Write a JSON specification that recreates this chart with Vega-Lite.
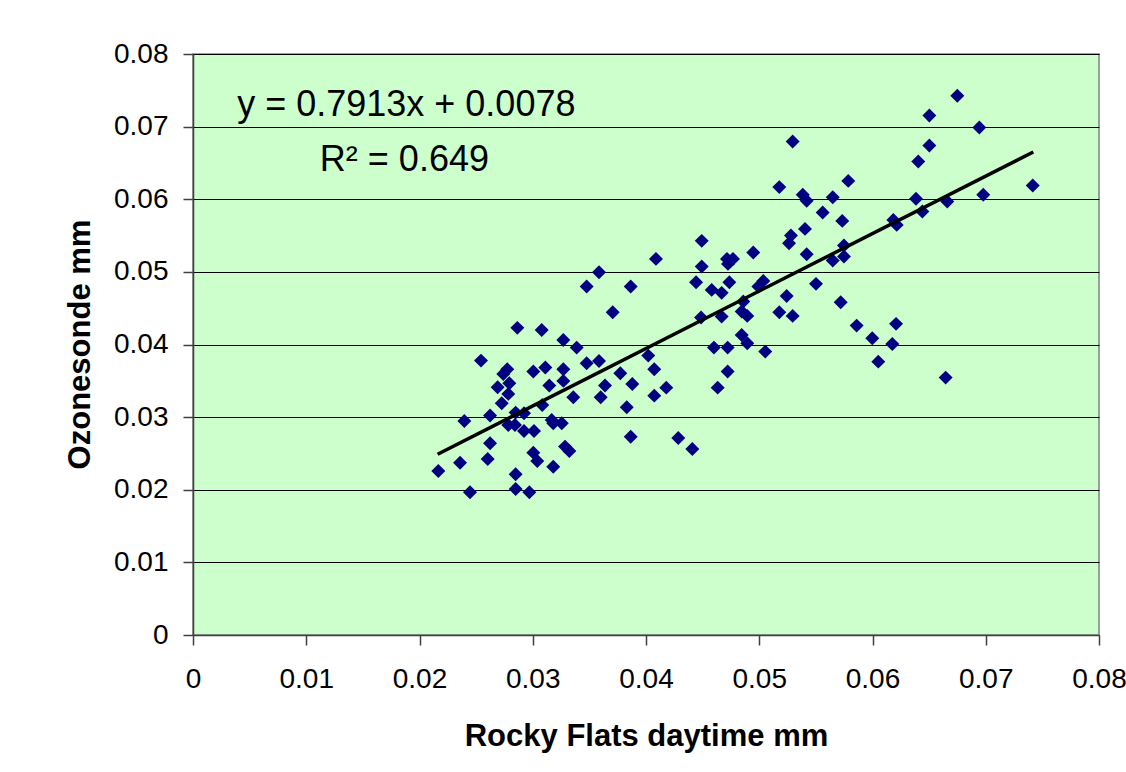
{
  "$schema": "https://vega.github.io/schema/vega-lite/v6.json",
  "autosize": {"type": "none"},
  "width": 906,
  "height": 581,
  "padding": {"left": 193, "top": 54, "right": 27, "bottom": 137},
  "background": "#ffffff",
  "config": {
    "font": "Liberation Sans",
    "view": {"fill": "#CCFFCC", "stroke": "#808080", "strokeWidth": 1.5}
  },
  "datasets": {
    "pts": [
      {"rf": 0.03706, "oz": 0.04445}, {"rf": 0.02864, "oz": 0.04229}, {"rf": 0.03079, "oz": 0.04201},
      {"rf": 0.03270, "oz": 0.04063}, {"rf": 0.03388, "oz": 0.03957}, {"rf": 0.02543, "oz": 0.03778},
      {"rf": 0.02775, "oz": 0.03660}, {"rf": 0.02740, "oz": 0.03595}, {"rf": 0.03005, "oz": 0.03627},
      {"rf": 0.03111, "oz": 0.03682}, {"rf": 0.03270, "oz": 0.03660}, {"rf": 0.03476, "oz": 0.03742},
      {"rf": 0.03585, "oz": 0.03774}, {"rf": 0.03773, "oz": 0.03605}, {"rf": 0.03879, "oz": 0.03457},
      {"rf": 0.02793, "oz": 0.03467}, {"rf": 0.02690, "oz": 0.03412}, {"rf": 0.02784, "oz": 0.03320},
      {"rf": 0.03146, "oz": 0.03434}, {"rf": 0.03270, "oz": 0.03499}, {"rf": 0.03638, "oz": 0.03434},
      {"rf": 0.02726, "oz": 0.03191}, {"rf": 0.03084, "oz": 0.03168}, {"rf": 0.03358, "oz": 0.03274},
      {"rf": 0.03600, "oz": 0.03274}, {"rf": 0.03830, "oz": 0.03136}, {"rf": 0.02396, "oz": 0.02948},
      {"rf": 0.02623, "oz": 0.03021}, {"rf": 0.02849, "oz": 0.03062}, {"rf": 0.02923, "oz": 0.03054},
      {"rf": 0.02784, "oz": 0.02893}, {"rf": 0.02843, "oz": 0.02893}, {"rf": 0.02923, "oz": 0.02810},
      {"rf": 0.03011, "oz": 0.02810}, {"rf": 0.03167, "oz": 0.02961}, {"rf": 0.03181, "oz": 0.02916},
      {"rf": 0.03256, "oz": 0.02916}, {"rf": 0.03865, "oz": 0.02731}, {"rf": 0.02623, "oz": 0.02640},
      {"rf": 0.03285, "oz": 0.02594}, {"rf": 0.03323, "oz": 0.02534}, {"rf": 0.03005, "oz": 0.02511},
      {"rf": 0.03040, "oz": 0.02397}, {"rf": 0.03181, "oz": 0.02318}, {"rf": 0.02166, "oz": 0.02259},
      {"rf": 0.02358, "oz": 0.02373}, {"rf": 0.02602, "oz": 0.02424}, {"rf": 0.02849, "oz": 0.02213},
      {"rf": 0.02849, "oz": 0.02011}, {"rf": 0.02446, "oz": 0.01966}, {"rf": 0.02970, "oz": 0.01966},
      {"rf": 0.04859, "oz": 0.04591}, {"rf": 0.05242, "oz": 0.04669}, {"rf": 0.05719, "oz": 0.04583},
      {"rf": 0.05860, "oz": 0.04260}, {"rf": 0.04486, "oz": 0.04371}, {"rf": 0.04668, "oz": 0.04384},
      {"rf": 0.04845, "oz": 0.04453}, {"rf": 0.04894, "oz": 0.04394}, {"rf": 0.05177, "oz": 0.04445},
      {"rf": 0.05295, "oz": 0.04394}, {"rf": 0.04845, "oz": 0.04132}, {"rf": 0.04894, "oz": 0.04018},
      {"rf": 0.04600, "oz": 0.03957}, {"rf": 0.04721, "oz": 0.03957}, {"rf": 0.05053, "oz": 0.03902},
      {"rf": 0.04020, "oz": 0.03847}, {"rf": 0.04073, "oz": 0.03660}, {"rf": 0.04721, "oz": 0.03627},
      {"rf": 0.04179, "oz": 0.03406}, {"rf": 0.04073, "oz": 0.03296}, {"rf": 0.04633, "oz": 0.03406},
      {"rf": 0.04285, "oz": 0.02713}, {"rf": 0.04409, "oz": 0.02562}, {"rf": 0.06208, "oz": 0.04284},
      {"rf": 0.05998, "oz": 0.04087}, {"rf": 0.06175, "oz": 0.04008}, {"rf": 0.06051, "oz": 0.03764},
      {"rf": 0.06646, "oz": 0.03544}, {"rf": 0.03585, "oz": 0.04996}, {"rf": 0.03476, "oz": 0.04798},
      {"rf": 0.03865, "oz": 0.04798}, {"rf": 0.05295, "oz": 0.06795}, {"rf": 0.05177, "oz": 0.06167},
      {"rf": 0.05384, "oz": 0.06061}, {"rf": 0.05419, "oz": 0.05978}, {"rf": 0.05649, "oz": 0.06029},
      {"rf": 0.05786, "oz": 0.06253}, {"rf": 0.05560, "oz": 0.05817}, {"rf": 0.05733, "oz": 0.05702},
      {"rf": 0.05404, "oz": 0.05592}, {"rf": 0.05280, "oz": 0.05500}, {"rf": 0.05263, "oz": 0.05395},
      {"rf": 0.05419, "oz": 0.05244}, {"rf": 0.05748, "oz": 0.05362}, {"rf": 0.05649, "oz": 0.05156},
      {"rf": 0.05748, "oz": 0.05211}, {"rf": 0.04088, "oz": 0.05179}, {"rf": 0.04492, "oz": 0.05427},
      {"rf": 0.04492, "oz": 0.05073}, {"rf": 0.04715, "oz": 0.05179}, {"rf": 0.04768, "oz": 0.05179},
      {"rf": 0.04724, "oz": 0.05110}, {"rf": 0.04947, "oz": 0.05266}, {"rf": 0.04442, "oz": 0.04858},
      {"rf": 0.04580, "oz": 0.04752}, {"rf": 0.04668, "oz": 0.04711}, {"rf": 0.04736, "oz": 0.04858},
      {"rf": 0.04992, "oz": 0.04798}, {"rf": 0.05036, "oz": 0.04876}, {"rf": 0.05501, "oz": 0.04835},
      {"rf": 0.06749, "oz": 0.07424}, {"rf": 0.06502, "oz": 0.07153}, {"rf": 0.06943, "oz": 0.06988},
      {"rf": 0.06502, "oz": 0.06740}, {"rf": 0.06404, "oz": 0.06519}, {"rf": 0.07415, "oz": 0.06189},
      {"rf": 0.06384, "oz": 0.06006}, {"rf": 0.06978, "oz": 0.06061}, {"rf": 0.06660, "oz": 0.05968},
      {"rf": 0.06440, "oz": 0.05831}, {"rf": 0.06184, "oz": 0.05716}, {"rf": 0.06214, "oz": 0.05647}
    ],
    "trend": [
      {"rf": 0.0216, "oz": 0.02489},
      {"rf": 0.0742, "oz": 0.06651}
    ]
  },
  "layer": [
    {
      "data": {"name": "pts"},
      "mark": {"type": "point", "shape": "diamond", "filled": true, "color": "#000080", "opacity": 1, "size": 195},
      "encoding": {
        "x": {
          "field": "rf", "type": "quantitative",
          "scale": {"domain": [0, 0.08], "nice": false, "zero": true},
          "axis": {
            "title": "Rocky Flats daytime mm",
            "values": [0, 0.01, 0.02, 0.03, 0.04, 0.05, 0.06, 0.07, 0.08],
            "format": "~g",
            "grid": false,
            "domainColor": "#404040", "domainWidth": 1.5,
            "tickColor": "#404040", "tickSize": 10, "tickWidth": 1.5,
            "labelFont": "Liberation Sans", "labelFontSize": 28, "labelColor": "#000000",
            "labelPadding": 20, "labelFlush": false, "labelOverlap": false,
            "titleFont": "Liberation Sans", "titleFontSize": 31, "titleFontWeight": "bold", "titleColor": "#000000",
            "titleBaseline": "alphabetic", "titleY": 110
          }
        },
        "y": {
          "field": "oz", "type": "quantitative",
          "scale": {"domain": [0, 0.08], "nice": false, "zero": true},
          "axis": {
            "title": "Ozonesonde mm",
            "values": [0, 0.01, 0.02, 0.03, 0.04, 0.05, 0.06, 0.07, 0.08],
            "format": "~g",
            "grid": true, "gridColor": "#000000", "gridWidth": 1, "gridOpacity": 1,
            "domainColor": "#404040", "domainWidth": 1.5,
            "tickColor": "#404040", "tickSize": 10, "tickWidth": 1.5,
            "labelFont": "Liberation Sans", "labelFontSize": 28, "labelColor": "#000000",
            "labelPadding": 15, "labelFlush": false, "labelOverlap": false,
            "titleFont": "Liberation Sans", "titleFontSize": 31, "titleFontWeight": "bold", "titleColor": "#000000",
            "titleAngle": -90, "titleBaseline": "alphabetic", "titleX": -104, "titleY": 290
          }
        }
      }
    },
    {
      "data": {"name": "trend"},
      "mark": {"type": "line", "color": "#000000", "strokeWidth": 3.5},
      "encoding": {
        "x": {"field": "rf", "type": "quantitative"},
        "y": {"field": "oz", "type": "quantitative"}
      }
    },
    {
      "data": {"values": [{}]},
      "mark": {"type": "text", "align": "left", "baseline": "alphabetic", "font": "Liberation Sans", "fontSize": 36, "color": "#000000"},
      "encoding": {
        "x": {"datum": 0.0039, "type": "quantitative"},
        "y": {"datum": 0.0715, "type": "quantitative"},
        "text": {"value": "y = 0.7913x + 0.0078"}
      }
    },
    {
      "data": {"values": [{}]},
      "mark": {"type": "text", "align": "left", "baseline": "alphabetic", "font": "Liberation Sans", "fontSize": 36, "color": "#000000"},
      "encoding": {
        "x": {"datum": 0.0112, "type": "quantitative"},
        "y": {"datum": 0.0639, "type": "quantitative"},
        "text": {"value": "R² = 0.649"}
      }
    }
  ]
}
